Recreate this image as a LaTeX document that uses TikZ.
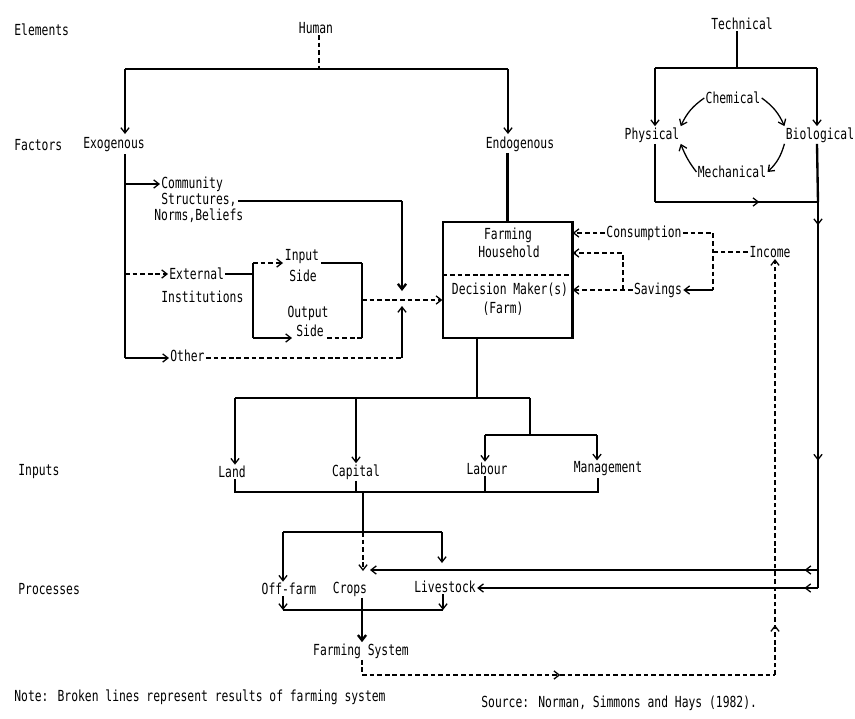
\documentclass[tikz,border=0pt]{standalone}
\usepackage{fontspec}
\setmainfont{DejaVu Sans Mono}[FakeStretch=0.745]
\usetikzlibrary{arrows.meta,decorations.markings}
\tikzset{barb/.tip={Straight Barb[length=4.5pt,width=7pt]}}
\begin{document}
\begin{tikzpicture}[x=0.03cm,y=-0.03cm,
  every node/.style={inner sep=1pt, font=\fontsize{13}{14}\selectfont},
  ln/.style={line width=1.1pt},
  thk/.style={line width=2pt},
  brk/.style={line width=1.1pt, dash pattern=on 4pt off 2.5pt},
  arr/.style={-barb},
  midarr/.style={postaction={decorate},decoration={markings,mark=at position #1 with {\arrow{barb}}}},
  midarrtwo/.style n args={2}{postaction={decorate},decoration={markings,mark=at position #1 with {\arrow{barb}},mark=at position #2 with {\arrow{barb}}}},
]
\useasboundingbox (0,0) rectangle (855,719);

% ---------- row labels ----------
\node[anchor=west] (elements) at (13,30) {Elements};
\node[anchor=west] (factors) at (13,145) {Factors};
\node[anchor=west] (inputs) at (17,472) {Inputs};
\node[anchor=west] (processes) at (17,589) {Processes};

% ---------- Human ----------
\node (human) at (316,28) {Human};
\node (exo) at (114,145) {Exogenous};
\node (endo) at (520,144) {Endogenous};
\coordinate (hj) at (319,69);
\coordinate (hl) at (125,69);
\coordinate (hr) at (508,69);
\coordinate (exoin) at (125,134);
\coordinate (endoin) at (508,134);
\draw[brk] (hj |- human.south) -- (hj);
\draw[ln] (hl) -- (hr);
\draw[ln,arr] (hl) -- (exoin);
\draw[ln,arr] (hr) -- (endoin);

% ---------- Exogenous branch ----------
\node[anchor=west] (comm1) at (160,184) {Community};
\node[anchor=west] (comm2) at (160,200) {Structures,};
\node[anchor=west] (comm3) at (153,216) {Norms,Beliefs};
\node[anchor=west] (ext1) at (168,274) {External};
\node[anchor=west] (ext2) at (160,297) {Institutions};
\node[anchor=west] (other) at (169,356) {Other};
\coordinate (ex0) at (125,154);
\coordinate (c0) at (125,184);
\coordinate (e0) at (125,274);
\coordinate (exb) at (125,358);
\draw[ln] (ex0) -- (exb);
\draw[ln,arr] (c0) -- (comm1.west);
\draw[brk,arr] (e0) -- (ext1.west);
\draw[ln,arr] (exb) -- (exb -| other.west);

% junction feeding the decision maker
\coordinate (sj) at (402,201);
\coordinate (jtop) at (402,291);
\coordinate (ob) at (402,358);
\coordinate (jbot) at (402,306);
\draw[ln] (comm2.east |- sj) -- (sj);
\draw[thk,arr] (sj) -- (jtop);
\draw[brk] (other.east |- ob) -- (ob);
\draw[ln,arr] (ob) -- (jbot);

% ---------- Input / Output box ----------
\coordinate (bxtl) at (253,263);
\coordinate (bxtr) at (362,263);
\coordinate (bxbr) at (362,338);
\coordinate (bxbl) at (253,338);
\coordinate (ia) at (283,263);
\coordinate (ib) at (321,263);
\coordinate (oa) at (292,338);
\coordinate (ob2) at (327,338);
\coordinate (bxr) at (362,300);
\node (inp1) at (302,257) {Input};
\node (inp2) at (303,276) {Side};
\node (out1) at (308,313) {Output};
\node (out2) at (310,331) {Side};
\draw[ln] (ext1.east) -- (ext1.east -| bxtl);
\draw[brk,arr] (bxtl) -- (ia);
\draw[ln] (ib) -- (bxtr);
\draw[ln] (bxtl) -- (bxbl);
\draw[ln] (bxtr) -- (bxbr);
\draw[ln,arr] (bxbl) -- (oa);
\draw[brk] (ob2) -- (bxbr);

% ---------- Farming household box ----------
\node[draw, line width=1.1pt, minimum width=3.87cm, minimum height=3.48cm, inner sep=0pt] (hh) at (507.5,280) {};
\coordinate (dv) at (0,275);
\draw[brk] (hh.west |- dv) -- (hh.east |- dv);
\draw[thk] (hh.north east) -- (hh.south east);
\node (farming) at (508,235) {Farming};
\node (household) at (509,252) {Household};
\node (decision) at (510,290) {Decision Maker(s)};
\node (farmtxt) at (503,309) {(Farm)};
\draw[thk] (hh.north |- endo.south) -- (hh.north);
\draw[brk,arr] (bxr) -- (hh.west |- bxr);

% ---------- Income / Consumption / Savings ----------
\node (consumption) at (644,233) {Consumption};
\node (savings) at (658,290) {Savings};
\node (income) at (770,252) {Income};
\coordinate (cr) at (713,233);
\coordinate (sr) at (713,290);
\coordinate (ir) at (713,252);
\coordinate (sv1) at (623,290);
\coordinate (sv2) at (623,253);
\draw[brk,arr] (consumption.west) -- (hh.east |- consumption.west);
\draw[brk] (consumption.east) -- (cr) -- (sr);
\draw[brk] (income.west) -- (ir);
\draw[ln,arr] (sr) -- (savings.east);
\draw[brk,arr] (savings.west) -- (hh.east |- savings.west);
\draw[brk,arr] (sv1) -- (sv2) -- (hh.east |- sv2);

% ---------- Technical ----------
\node (tech) at (742,24) {Technical};
\node (physical) at (652,135) {Physical};
\node (biological) at (820,135) {Biological};
\node (chemical) at (733,98) {Chemical};
\node (mechanical) at (732,172) {Mechanical};
\coordinate (tj) at (737,68);
\coordinate (tl) at (655,68);
\coordinate (tr) at (817,68);
\coordinate (tbl) at (655,202);
\coordinate (tbr) at (818,202);
\draw[thk] (tj |- tech.south) -- (tj);
\draw[thk] (tl) -- (tr);
\draw[ln,arr] (tl) -- (tl |- physical.north);
\draw[ln,arr] (tr) -- (tr |- biological.north);
\draw[ln] (tl |- physical.south) -- (tbl);
\draw[ln,midarr=0.64] (tbl) -- (tbr);
\draw[thk] (tr |- biological.south) -- (tbr);
\draw[ln,arr] (chemical.west) to[bend right=15] (physical.north east);
\draw[ln,arr] (chemical.east) to[bend left=15] (biological.north west);
\draw[ln,arr] (mechanical.west) to[bend left=8] (physical.south east);
\draw[ln,arr] (biological.south west) to[bend left=15] (mechanical.east);

% ---------- Inputs ----------
\node (land) at (232,472) {Land};
\node (capital) at (356,472) {Capital};
\node (labour) at (487,469) {Labour};
\node (management) at (608,469) {Management};
\coordinate (hj2) at (477,398);
\coordinate (il) at (235,398);
\coordinate (ir2) at (530,398);
\coordinate (capj) at (356,398);
\coordinate (ilab) at (530,435);
\coordinate (ll) at (485,435);
\coordinate (lr) at (597,435);
\draw[ln] (hj2 |- hh.south) -- (hj2);
\draw[thk] (il) -- (ir2);
\draw[ln] (ir2) -- (ilab);
\draw[ln,arr] (il) -- (il |- land.north);
\draw[ln,arr] (capj) -- (capj |- capital.north);
\draw[ln] (ll) -- (lr);
\draw[ln,arr] (ll) -- (ll |- labour.north);
\draw[ln,arr] (lr) -- (lr |- management.north);

% bracket below inputs
\coordinate (bl) at (235,492);
\coordinate (br) at (598,492);
\draw[ln] (bl |- land.south) -- (bl) -- (br) -- (br |- management.south);
\draw[ln] (capital.south) -- (capital.south |- bl);
\draw[ln] (ll |- labour.south) -- (ll |- bl);

% ---------- Processes ----------
\node (offfarm) at (289,589) {Off-farm};
\node (crops) at (350,589) {Crops};
\node (livestock) at (445,587) {Livestock};
\node (farmsys) at (361,651) {Farming System};
\coordinate (pj) at (363,492);
\coordinate (pj2) at (363,532);
\coordinate (pl) at (283,532);
\coordinate (pr) at (442,532);
\coordinate (cropdn) at (363,571);
\coordinate (lvin) at (442,563);
\draw[thk] (pj) -- (pj2);
\draw[ln] (pl) -- (pr);
\draw[ln,arr] (pl) -- (pl |- offfarm.north);
\draw[brk,arr] (pj2) -- (cropdn);
\draw[ln,arr] (pr) -- (lvin);

\coordinate (ql) at (283,610);
\coordinate (qr) at (443,610);
\coordinate (qc) at (362,610);
\draw[ln] (ql) -- (qr);
\draw[ln,arr] (ql |- offfarm.south) -- (ql);
\draw[ln,arr] (qr |- livestock.south) -- (qr);
\draw[ln] (qc |- crops.south) -- (qc);
\draw[thk,arr] (qc) -- (qc |- farmsys.north);

% right vertical and returns to processes
\coordinate (rv1) at (818,570);
\coordinate (rv2) at (818,588);
\coordinate (cropin) at (370,570);
\draw[ln,midarrtwo={0.06}{0.67}] (tbr) -- (rv2);
\draw[ln,arr,midarr=0.03] (rv1) -- (cropin);
\draw[ln,arr,midarr=0.04] (rv2) -- (livestock.east |- rv2);

% ---------- results loop ----------
\coordinate (fs1) at (362,675);
\coordinate (ibot) at (775,675);
\draw[brk] (fs1 |- farmsys.south) -- (fs1);
\draw[brk,midarr=0.48] (fs1) -- (ibot);
\draw[brk,arr,midarr=0.12] (ibot) -- (ibot |- income.south);

% ---------- notes ----------
\node[anchor=west] (note) at (13,697) {Note: Broken lines represent results of farming system};
\node[anchor=west] (source) at (480,703) {Source: Norman, Simmons and Hays (1982).};
\end{tikzpicture}
\end{document}
